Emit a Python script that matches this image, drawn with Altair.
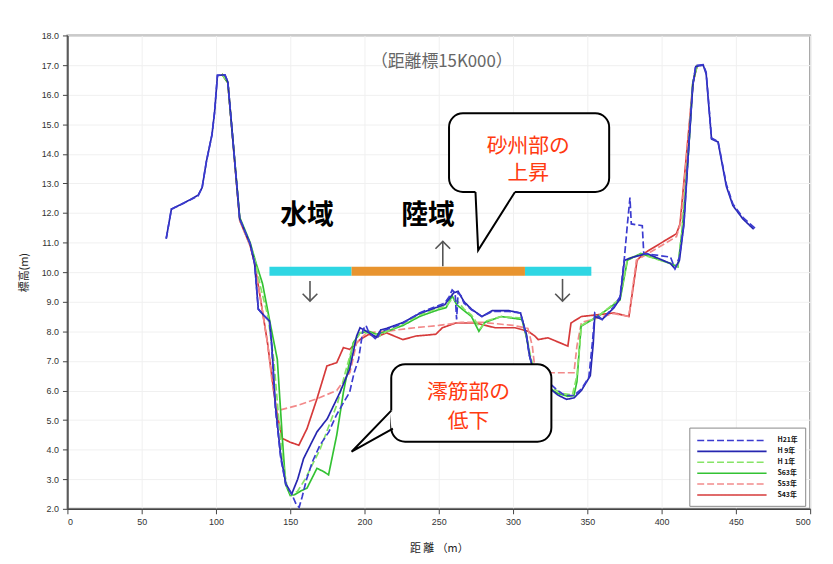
import altair as alt
import pandas as pd

# ---------------- data ----------------
SERIES = ["H21年", "H 9年", "H 1年", "S63年", "S53年", "S43年"]
COLORS = ["#3b3bd0", "#2626b0", "#86e466", "#33c233", "#f28a8a", "#d63a3a"]
DASHES = [[7, 3], [1, 0], [7, 3], [1, 0], [7, 3], [1, 0]]

BD = [(66.5, 11.13), (70, 12.13), (79, 12.35), (88, 12.58), (90.7, 12.86), (93.6, 13.75), (97.3, 14.64),
      (99.1, 15.42), (101, 16.65), (106, 16.67), (108, 16.43), (116, 11.8), (123, 10.96), (126, 10.3),
      (128.5, 8.75), (132, 8.55), (136, 8.35), (137.5, 7.5), (140, 5.38), (143.6, 3.71), (147, 2.82),
      (151, 2.5), (154, 2.15), (156, 2.05), (158, 2.4), (161, 3.0), (165, 3.6), (170, 4.15), (176, 4.6),
      (181, 5.16), (186, 5.6), (190, 5.94), (193, 6.6), (196, 7.05), (199, 8.06), (201, 8.2), (203, 7.95),
      (208, 7.72), (211, 8.0), (215, 8.06), (226, 8.28), (237, 8.62), (248, 8.84), (254, 8.95), (257, 9.17),
      (259, 9.4), (261, 9.3), (262, 8.4), (263, 9.3), (265, 9.2), (267, 8.95), (272, 8.73), (279, 8.5),
      (286, 8.67), (297, 8.67), (305, 8.62), (309, 7.84), (311, 7.17), (315, 6.5), (324, 6.27), (330, 6.0),
      (335, 5.83), (341, 5.83), (346, 6.05), (351, 6.44), (353.6, 7.72), (355, 8.62), (360, 8.4), (368, 8.84),
      (372, 9.17), (375, 10.51), (377, 11.63), (378.7, 12.52), (379.6, 11.63), (387, 11.57), (388, 10.63),
      (406, 10.51), (409, 10.12), (412, 10.51), (415, 11.63), (418, 14.08), (421, 16.32), (423, 16.99),
      (428, 17.01), (430, 16.76), (433.6, 14.53), (438, 14.42), (443.6, 12.97), (448, 12.3), (454.7, 11.85),
      (463.5, 11.46)]

BS = [(66.5, 11.13), (70, 12.13), (79, 12.35), (88, 12.6), (90.7, 12.86), (93.6, 13.75), (97.3, 14.64),
      (99.1, 15.42), (101, 16.65), (106, 16.67), (108, 16.43), (116, 11.8), (123, 10.96), (126, 10.3),
      (128.5, 8.75), (132, 8.55), (136, 8.35), (137.5, 7.6), (140, 5.5), (143.6, 3.8), (147, 2.85),
      (151, 2.5), (155, 3.0), (159, 3.7), (164, 4.2), (168, 4.6), (175, 5.05), (183.5, 5.94), (190, 6.72),
      (194.7, 7.84), (197, 8.12), (203, 7.95), (208, 7.8), (211, 8.05), (215, 8.1), (226, 8.3), (237, 8.6),
      (248, 8.8), (254, 8.9), (257, 9.1), (260, 9.3), (263, 9.35), (267, 9.0), (272, 8.75), (279, 8.5),
      (286, 8.7), (297, 8.7), (305, 8.62), (309, 7.9), (311, 7.2), (315, 6.4), (324, 6.1), (330, 5.85),
      (336, 5.7), (341, 5.75), (346, 6.0), (352, 6.5), (354, 7.6), (355, 8.5), (360, 8.4), (368, 8.8),
      (372, 9.1), (375, 10.4), (381, 10.51), (390, 10.63), (406, 10.29), (409, 10.12), (412, 10.4),
      (415, 11.6), (418, 14.0), (421, 16.3), (423, 16.95), (428, 17.0), (430, 16.7), (433.6, 14.5),
      (438, 14.4), (443.6, 12.9), (448, 12.25), (454.7, 11.8), (462, 11.45)]

GD = [(104, 16.7), (108, 16.4), (116, 11.8), (123, 10.95), (127, 10.25), (130, 9.5), (135, 8.5), (139, 7.0),
      (142, 5.2), (145, 3.6), (148, 2.7), (151, 2.45), (155, 2.6), (160, 3.0), (165, 3.5), (170, 4.0),
      (176, 4.8), (182, 5.6), (187, 6.6), (192, 7.5), (197, 7.95), (203, 7.95), (210, 7.85), (215, 8.0),
      (226, 8.25), (237, 8.55), (248, 8.75), (255, 8.85), (259, 9.1), (263, 9.0), (267, 8.75), (272, 8.55),
      (278, 8.1), (282, 8.35), (292, 8.5), (306, 8.45), (309, 7.85), (312, 7.1), (316, 6.45), (324, 6.15),
      (333, 5.9), (340, 5.85), (343, 6.5), (346, 8.2), (357, 8.5), (372, 9.1), (377, 10.45), (386, 10.6),
      (406, 10.3), (411, 10.2), (414, 11.5), (418, 14.0), (421, 16.4), (424, 17.0)]

GS = [(104, 16.7), (108, 16.4), (116, 11.85), (123, 11.0), (127, 10.3), (131.3, 9.62), (136, 8.4),
      (141.3, 7.05), (144.7, 4.38), (146.9, 2.82), (150, 2.45), (153, 2.48), (157, 2.6), (161.3, 2.7),
      (168, 3.37), (172.4, 3.26), (175.8, 3.15), (181.3, 4.49), (185.8, 5.94), (192.4, 7.61), (197, 7.95),
      (203, 8.0), (208, 7.9), (215, 8.0), (226, 8.2), (237, 8.5), (248, 8.7), (255, 8.8), (259, 9.2),
      (262, 8.9), (267, 8.7), (272, 8.5), (277, 8.0), (281, 8.3), (292, 8.5), (306, 8.4), (309, 7.8),
      (312, 7.0), (316, 6.4), (324, 6.1), (330, 5.9), (337, 5.8), (341, 5.83), (343, 6.3), (345.8, 8.17),
      (357, 8.5), (372, 9.06), (377, 10.4), (386, 10.63), (406, 10.29), (411, 10.18), (414, 11.5),
      (418, 14.0), (421, 16.4), (424, 17.0)]

RD = [(104, 16.7), (108, 16.4), (116, 11.75), (123, 10.9), (126, 10.3), (129, 9.4), (134.7, 7.6), (138, 6.2),
      (141.3, 5.32), (154.7, 5.49), (168, 5.72), (181.3, 6.0), (190.2, 6.61), (194.7, 7.61), (201.3, 7.95),
      (215, 8.0), (230, 8.1), (250, 8.2), (265, 8.3), (280, 8.3), (300, 8.2), (310, 8.1), (313, 7.5),
      (315, 6.6), (341, 6.6), (343, 7.5), (346, 8.3), (368, 8.6), (378, 8.5), (383, 10.4), (390, 10.6),
      (410, 11.2), (413, 11.7), (421, 16.4), (424, 17.0)]

RS = [(104, 16.7), (108, 16.4), (116, 11.75), (123, 10.9), (126, 10.3), (129, 9.4), (134.7, 7.61),
      (139, 5.94), (141.3, 5.16), (144.7, 4.38), (150, 4.25), (155.8, 4.15), (161.3, 4.71), (168, 5.72),
      (174.7, 6.83), (181.3, 6.94), (185.8, 7.45), (190, 7.39), (197, 7.72), (203, 7.9), (208, 7.8),
      (214.7, 7.95), (225.8, 7.72), (234.7, 7.84), (248, 7.9), (252.4, 8.12), (261.3, 8.28), (274.7, 8.28),
      (288, 8.12), (301.3, 8.12), (310.2, 8.0), (314.7, 7.84), (316.9, 7.72), (323.5, 7.78), (336.9, 7.5),
      (339, 8.28), (346, 8.5), (368, 8.62), (378, 8.5), (383.5, 10.4), (388, 10.63), (410, 11.3),
      (412.4, 11.63), (421.3, 16.43), (424, 17.0)]

PROFILES = [BD, BS, GD, GS, RD, RS]

X_TICKS = list(range(0, 501, 50))
Y_TICKS = list(range(2, 19, 1))

# annotation values (data units)
TITLE_TEXT = "（距離標15K000）"
TITLE_POS = (252, 17.1)
ZONE_LABELS = ["水域", "陸域"]
ZONE_LABEL_X = [161.3, 242.7]
ZONE_LABEL_Y = 11.91
CYAN_X = [136, 308]
CYAN_X2 = [191.3, 352.7]
ORANGE_X = [191.3]
ORANGE_X2 = [308]
BAR_Y = 10.03
ARROW_X = [163.3, 252.7, 333.3]
ARROW_Y_FROM = [9.70, 10.2, 9.77]
ARROW_Y_TO = [9.02, 11.04, 9.02]
BOX_X = [256.9, 218]
BOX_X2 = [364.7, 325.8]
BOX_Y = [15.37, 6.89]
BOX_Y2 = [12.71, 4.27]
BOX_TEXT = [["砂州部の", "上昇"], ["澪筋部の", "低下"]]
BOX_TEXT_X = [310.2, 270]
BOX_TEXT_Y = [[14.22, 13.30], [5.90, 4.94]]
TAIL_X = [[274.7, 276.5, 301.3], [218.0, 191.3, 219.1]]
TAIL_Y = [[12.71, 10.74, 12.71], [5.32, 3.93, 4.71]]

JP = "Noto Sans CJK JP"

# ---------------- build ----------------
xs = alt.Scale(domain=[0, 500], nice=False)
ys = alt.Scale(domain=[2, 18], nice=False)
AX = alt.Axis(values=X_TICKS, title="距 離  （m）", grid=True)
AY = alt.Axis(values=Y_TICKS, format=".1f", title="標高(m)", grid=True)


def X():
    return alt.X("x:Q", scale=xs, axis=AX)


def Y():
    return alt.Y("y:Q", scale=ys, axis=AY)


color_scale = alt.Scale(domain=SERIES, range=COLORS)
dash_scale = alt.Scale(domain=SERIES, range=DASHES)

rows = []
for name, pts in zip(SERIES, PROFILES):
    for i, (px, py) in enumerate(pts):
        rows.append({"series": name, "x": px, "y": py, "i": i})
df = pd.DataFrame(rows)

legend = alt.Legend(
    title=None, orient="none", legendX=628, legendY=396,
    symbolType="M-7,0L7,0", symbolSize=100, symbolStrokeWidth=1.6,
    symbolOffset=30, labelOffset=40,
    labelFontSize=7, labelFont=JP, labelColor="#111", labelFontWeight="bold",
    rowPadding=1, padding=7, strokeColor="#888", fillColor="white",
    cornerRadius=0, symbolLimit=10,
)

line_layers = []
for name in reversed(SERIES):
    sub = df[df.series == name]
    line_layers.append(
        alt.Chart(sub).mark_line(strokeWidth=1.7, clip=True).encode(
            x=X(), y=Y(),
            color=alt.Color("series:N", scale=color_scale, legend=legend, sort=SERIES),
            strokeDash=alt.StrokeDash("series:N", scale=dash_scale, legend=legend, sort=SERIES),
            order="i:Q",
        )
    )

title_df = pd.DataFrame({"x": [TITLE_POS[0]], "y": [TITLE_POS[1]], "t": [TITLE_TEXT]})
title_layer = alt.Chart(title_df).mark_text(font=JP, fontSize=17, color="#666").encode(
    x=X(), y=Y(), text="t:N")

zone_df = pd.DataFrame({"x": ZONE_LABEL_X, "y": [ZONE_LABEL_Y] * 2, "t": ZONE_LABELS})
zone_layer = alt.Chart(zone_df).mark_text(font=JP, fontSize=27, fontWeight="bold", color="black").encode(
    x=X(), y=Y(), text="t:N")

cyan_df = pd.DataFrame({"x": CYAN_X, "x2": CYAN_X2, "y": [BAR_Y] * 2})
cyan_layer = alt.Chart(cyan_df).mark_rule(strokeWidth=9, color="#2fd6e3").encode(
    x=X(), x2="x2:Q", y=Y())
orange_df = pd.DataFrame({"x": ORANGE_X, "x2": ORANGE_X2, "y": [BAR_Y]})
orange_layer = alt.Chart(orange_df).mark_rule(strokeWidth=9, color="#e8942f").encode(
    x=X(), x2="x2:Q", y=Y())

arrow_df = pd.DataFrame({"x": ARROW_X, "y": ARROW_Y_FROM, "y2": ARROW_Y_TO})
shaft_layer = alt.Chart(arrow_df).mark_rule(strokeWidth=1.6, color="#555").encode(
    x=X(), y=Y(), y2="y2:Q")
head_df = pd.DataFrame({"x": ARROW_X, "y": ARROW_Y_TO})
down_head = alt.Chart(head_df[head_df.y < pd.Series(ARROW_Y_FROM)]).mark_point(
    shape="M-1,-1L0,0L1,-1", size=220, filled=False, strokeWidth=1.6, color="#555", opacity=1
).encode(x=X(), y=Y())
up_head = alt.Chart(head_df[head_df.y > pd.Series(ARROW_Y_FROM)]).mark_point(
    shape="M-1,1L0,0L1,1", size=220, filled=False, strokeWidth=1.6, color="#555", opacity=1
).encode(x=X(), y=Y())

box_df = pd.DataFrame({"x": BOX_X, "x2": BOX_X2, "y": BOX_Y, "y2": BOX_Y2})
box_layer = alt.Chart(box_df).mark_rect(
    cornerRadius=14, fill="white", stroke="black", strokeWidth=2
).encode(x=X(), x2="x2:Q", y=Y(), y2="y2:Q")

gap_rows = []
tail_rows = []
for k in range(2):
    gap_rows.append({"x": TAIL_X[k][0], "x2": TAIL_X[k][2], "y": TAIL_Y[k][0], "y2": TAIL_Y[k][2]})
    for j in range(3):
        tail_rows.append({"k": k, "j": j, "x": TAIL_X[k][j], "y": TAIL_Y[k][j]})
gap_layer = alt.Chart(pd.DataFrame(gap_rows)).mark_rule(strokeWidth=3, color="white").encode(
    x=X(), x2="x2:Q", y=Y(), y2="y2:Q")
tail_layer = alt.Chart(pd.DataFrame(tail_rows)).mark_line(
    strokeWidth=2, color="black", strokeJoin="miter"
).encode(x=X(), y=Y(), detail="k:N", order="j:Q")

txt_rows = []
for k in range(2):
    for j in range(2):
        txt_rows.append({"x": BOX_TEXT_X[k], "y": BOX_TEXT_Y[k][j], "t": BOX_TEXT[k][j]})
box_text = alt.Chart(pd.DataFrame(txt_rows)).mark_text(
    font=JP, fontSize=21, color="#ff3a10"
).encode(x=X(), y=Y(), text="t:N")

chart = alt.layer(
    *line_layers, title_layer, zone_layer, cyan_layer, orange_layer, shaft_layer,
    down_head, up_head, box_layer, gap_layer, tail_layer, box_text
).properties(
    width=750, height=478,
    autosize=alt.AutoSizeParams(type="none"),
    padding={"left": 60, "top": 25, "right": 15, "bottom": 53},
    background="white",
).configure_view(
    stroke="#9a9a9a", strokeWidth=2
).configure_axis(
    labelFont="Liberation Sans", labelFontSize=9, labelColor="#333",
    tickColor="#444", tickSize=5, domainColor="#444", domainWidth=1.5,
    gridColor="#f0f0f0", gridWidth=1,
    titleFont=JP, titleFontSize=11, titleColor="#222", titleFontWeight="normal",
).configure_axisX(
    labelPadding=4, titlePadding=16,
).configure_axisY(
    labelPadding=4, titlePadding=12,
)

chart.save("out.html", embed_options={"renderer": "svg", "actions": False})
